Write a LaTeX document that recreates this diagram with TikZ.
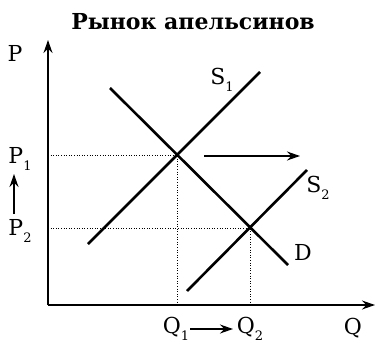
\documentclass[tikz,border=0pt]{standalone}
\usepackage{fontspec}
\setmainfont{DejaVu Serif}
\usetikzlibrary{arrows.meta}
\newcommand{\mysub}[1]{\raisebox{-0.3em}{\fontsize{13}{13}\selectfont #1}}
\tikzset{
  curve/.style={line width=2.6pt},
  axis/.style={line width=1.2pt,-{Stealth[length=13pt,width=9pt]}},
  guide/.style={line width=0.6pt,dotted},
  movearrow/.style={line width=1.2pt,-{Stealth[length=13pt,width=9pt]}},
  lbl/.style={inner sep=0pt,font=\fontsize{22}{26}\selectfont},
}
\begin{document}
\begin{tikzpicture}[x=1pt,y=-1pt]
\useasboundingbox (0,0) rectangle (375,345);
% title
\node[inner sep=0pt,font=\fontsize{22}{26}\selectfont\bfseries] (title) at (193,22) {Рынок апельсинов};
% axes
\coordinate (o) at (48,305);
\coordinate (ytop) at (48,40);
\coordinate (xend) at (375,305);
\draw[axis] (o) -- (ytop);
\draw[axis] (o) -- (xend);
% points
\coordinate (e1) at (177,155);
\coordinate (e2) at (250,228);
\coordinate (p1) at (48,155);
\coordinate (p2) at (48,228);
\coordinate (q1) at (177,305);
\coordinate (q2) at (250,305);
% guides
\draw[guide] (p1) -- (e1) -- (q1);
\draw[guide] (p2) -- (e2) -- (q2);
% curves
\coordinate (d1) at (110,88);
\coordinate (d2) at (288,265);
\coordinate (s1a) at (88,244);
\coordinate (s1b) at (260,72);
\coordinate (s2a) at (187,291);
\coordinate (s2b) at (307,170);
\draw[curve] (d1) -- (d2);
\draw[curve] (s1a) -- (s1b);
\draw[curve] (s2a) -- (s2b);
% shift arrow
\coordinate (sh1) at (204,156);
\coordinate (sh2) at (300,156);
\draw[movearrow] (sh1) -- (sh2);
% labels
\node[lbl] (P) at (15,53) {P};
\node[lbl] (S1) at (222,80) {S\mysub{1}};
\node[lbl] (S2) at (318,188) {S\mysub{2}};
\node[lbl] (D) at (303,252) {D};
\node[lbl] (P1) at (20,159) {P\mysub{1}};
\node[lbl] (P2) at (20,231) {P\mysub{2}};
\node[lbl] (Q1) at (176,329) {Q\mysub{1}};
\node[lbl] (Q2) at (250,329) {Q\mysub{2}};
\node[lbl] (Q) at (353,328) {Q};
\coordinate (pa) at (14,214);
\coordinate (pb) at (14,174);
\draw[movearrow] (pa) -- (pb);
\coordinate (qa) at (190,329);
\coordinate (qb) at (233,329);
\draw[movearrow] (qa) -- (qb);
\end{tikzpicture}
\end{document}
